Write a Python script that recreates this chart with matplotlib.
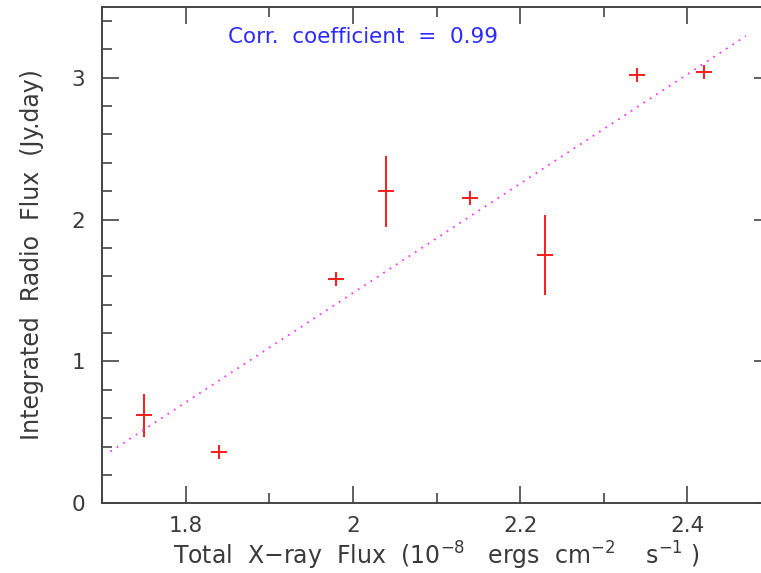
import matplotlib.pyplot as plt
import numpy as np

# X-ray flux (1e-8 ergs cm^-2 s^-1) vs integrated radio flux (Jy.day)
xray_flux = [1.75, 1.84, 1.98, 2.04, 2.14, 2.23, 2.34, 2.42]
radio_flux = [0.62, 0.36, 1.58, 2.20, 2.15, 1.75, 3.02, 3.04]
radio_err = [0.15, 0.05, 0.05, 0.25, 0.05, 0.28, 0.05, 0.05]
xray_err = [0.0095] * 8

# dotted best-fit line
fit_x = [1.71, 2.47]
fit_slope = 3.854
fit_icpt = -6.226
corr_text = "Corr.  coefficient  =  0.99"

axis_col = '#444444'
text_col = '#3a3a3a'


def main():
    fig = plt.figure(figsize=(7.61, 5.73), dpi=100)
    ax = fig.add_axes([102 / 761, 69.7 / 573, 669 / 761, 496.6 / 573])

    ax.errorbar(xray_flux, radio_flux, yerr=radio_err, xerr=xray_err,
                fmt='none', ecolor='#ff1a1a', elinewidth=1.4, capsize=0)

    fx = np.array(fit_x)
    ax.plot(fx, fit_slope * fx + fit_icpt, linestyle=(0, (1, 3.2)),
            color='#ff33ff', linewidth=1.3)

    ax.text(1.851, 3.286, corr_text, color='#2b2bff', fontsize=15.5,
            ha='left', va='center')

    ax.set_xlim(1.7, 2.5)
    ax.set_ylim(0, 3.5)
    ax.set_xticks([1.8, 2.0, 2.2, 2.4])
    ax.set_xticklabels(['1.8', '2', '2.2', '2.4'])
    ax.set_xticks(np.arange(1.7, 2.51, 0.1), minor=True)
    ax.set_yticks([0, 1, 2, 3])
    ax.set_yticks(np.arange(0, 3.51, 0.2), minor=True)

    ax.tick_params(which='both', direction='in', top=True, right=True,
                   color=axis_col, labelcolor=text_col, labelsize=15.5,
                   width=1.2)
    ax.tick_params(which='major', length=12)
    ax.tick_params(axis='y', which='major', pad=12)
    ax.tick_params(axis='x', which='major', pad=9)
    ax.tick_params(which='minor', length=7)
    for sp in ax.spines.values():
        sp.set_color(axis_col)
        sp.set_linewidth(1.4)
    # right frame edge sits just outside the picture
    ax.spines['right'].set_visible(False)

    ax.set_xlabel(r"Total  X$-$ray  Flux  (10$^{-8}$   ergs  cm$^{-2}$    s$^{-1}$ )",
                  fontsize=17, color=text_col, labelpad=3)
    ax.set_ylabel("Integrated  Radio  Flux  (Jy.day)", fontsize=17,
                  color=text_col, labelpad=20)

    fig.savefig("out.png", dpi=100)


if __name__ == "__main__":
    main()
